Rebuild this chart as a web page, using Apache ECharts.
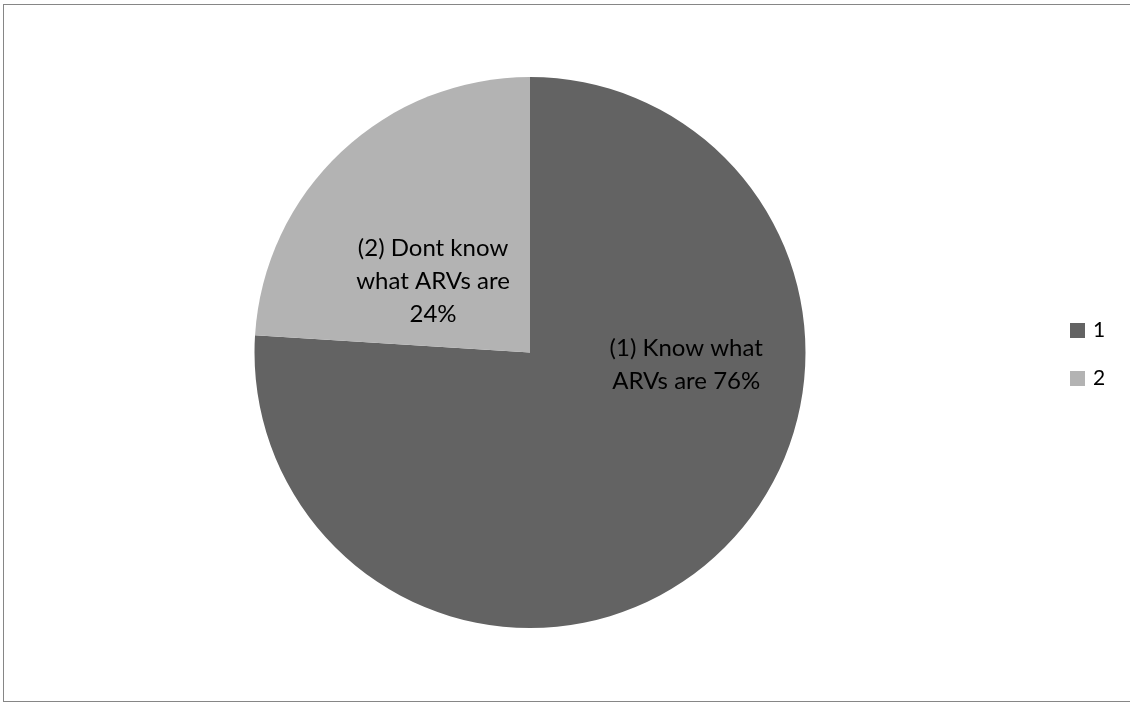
<!DOCTYPE html>
<html>
<head>
<meta charset="utf-8">
<script src="https://cdn.jsdelivr.net/npm/echarts@6/dist/echarts.min.js"></script>
<style>
  html, body { margin: 0; padding: 0; background: #fff; }
  #chart { position: absolute; left: 0; top: 0; width: 1130px; height: 702px; }
  #frame { position: absolute; left: 3px; top: 4px; width: 1140px; height: 696px;
           border: 1px solid #868686; pointer-events: none; }
</style>
</head>
<body>
<div id="chart"></div>
<div id="frame"></div>
<script>
const categories = ['1', '2'];
const values = [76, 24];
const sliceLabels = ['(1) Know what\nARVs are 76%', '(2) Dont know\nwhat ARVs are\n24%'];
const colors = ['#636363', '#b3b3b3'];

const cx = 530, cy = 352.5, R = 275.5;
// label anchor offsets as fractions of radius (relative to centre)
const labelOffsets = [[0.567, 0.045], [-0.352, -0.26]];

const chart = echarts.init(document.getElementById('chart'), null, { renderer: 'canvas' });
const option = {
  animation: false,
  color: colors,
  legend: {
    orient: 'vertical',
    left: 1070,
    top: 320,
    padding: 0,
    itemWidth: 15,
    itemHeight: 15,
    itemGap: 27,
    icon: 'rect',
    data: categories,
    textStyle: { fontFamily: 'Lato', fontSize: 21, lineHeight: 20, color: '#000', padding: [0, 0, 0, 3] }
  },
  series: [{
    type: 'pie',
    center: [cx, cy],
    radius: [0, R],
    startAngle: 90,
    clockwise: true,
    silent: true,
    itemStyle: { borderWidth: 0 },
    label: {
      show: true,
      position: 'inside',
      formatter: p => sliceLabels[p.dataIndex],
      fontFamily: 'Lato',
      fontSize: 24,
      lineHeight: 33,
      color: '#000',
      align: 'center'
    },
    labelLine: { show: false },
    labelLayout: function (params) {
      const o = labelOffsets[params.dataIndex];
      return { x: cx + o[0] * R, y: cy + o[1] * R, align: 'center', verticalAlign: 'middle' };
    },
    data: categories.map((c, i) => ({ name: c, value: values[i] }))
  }]
};
chart.setOption(option);
</script>
</body>
</html>
